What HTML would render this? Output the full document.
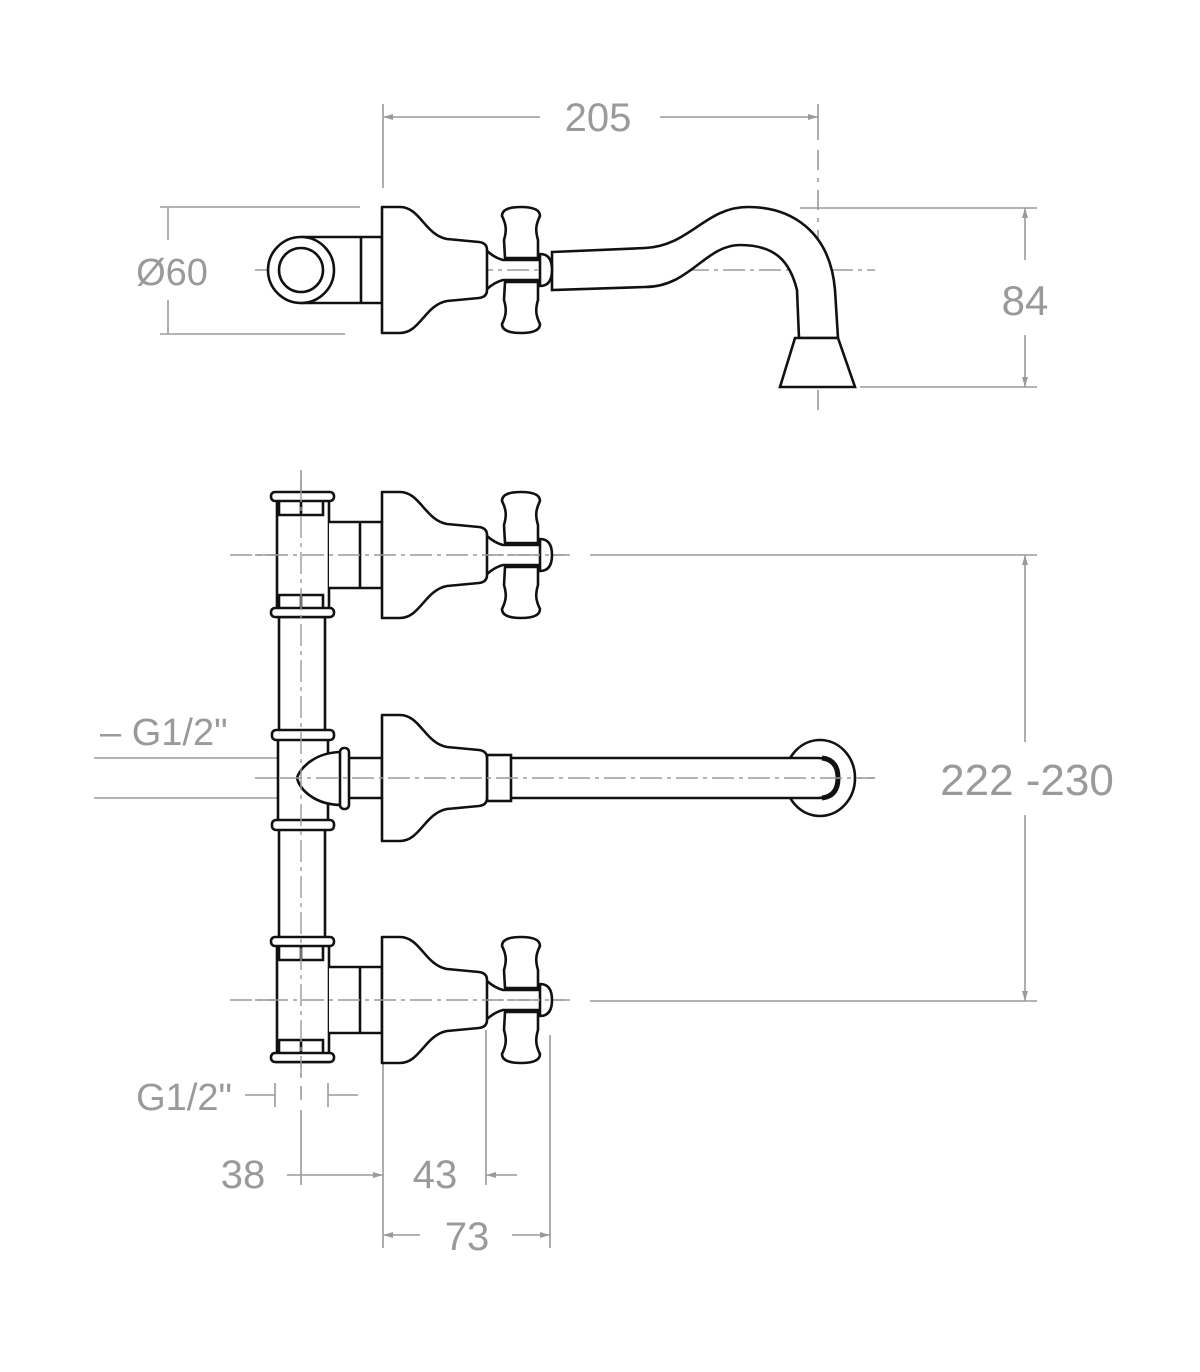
<!DOCTYPE html>
<html><head><meta charset="utf-8"><style>
html,body{margin:0;padding:0;background:#fff;}
svg{display:block;}
text{font-family:"Liberation Sans",Arial,sans-serif;fill:#9a9a9a;}
</style></head><body>
<svg width="1200" height="1372" viewBox="0 0 1200 1372" xmlns="http://www.w3.org/2000/svg">
<defs>
<g id="bell" fill="#fff" stroke="#111" stroke-width="2.6" stroke-linejoin="round">
<path d="M382,-63 L400,-63 C420,-63 425,-35 447,-31 L479,-28 Q487,-27 487,-20 L487,20 Q487,27 479,28 L447,31 C425,35 420,63 400,63 L382,63 Z"/>
</g>
<g id="handle" fill="#fff" stroke="#111" stroke-width="2.6" stroke-linejoin="round">
<path d="M487,-19 Q495,-12 503,-10 L540,-10 M487,19 Q495,12 503,10 L540,10" fill="none"/>
<path d="M540,-16 Q552,-16 552,0 Q552,16 540,16 Z"/>
<path d="M505,-12 L538,-12 L538,-30 C535,-40 536,-46 540,-54 Q540,-63 521,-63 Q502,-63 502,-54 C506,-46 507,-40 504,-30 Z"/>
<path d="M505,12 L538,12 L538,30 C535,40 536,46 540,54 Q540,63 521,63 Q502,63 502,54 C506,46 507,40 504,30 Z"/>
</g>
<g id="tee" fill="#fff" stroke="#111" stroke-width="2.6">
<rect x="277" y="-60" width="52" height="122"/>
<rect x="271" y="-63" width="63" height="9" rx="4"/>
<rect x="271" y="53" width="63" height="9" rx="4"/>
<path d="M279,-54 V-40 H323 V-54 M301,-54 V-40 M279,53 V40 H323 V53 M301,53 V40" fill="none"/>
<path d="M329,-33 H382 V33 H329" />
<path d="M360,-33 V33" fill="none"/>
</g>
</defs>

<g stroke="#9a9a9a" stroke-width="1.6" fill="none">
<!-- 205 -->
<path d="M383,104 V188 M818,104 V140 M383,117 H540 M660,117 H818"/>
<path d="M818,150 V170 M818,178 V182 M818,190 V210 M818,218 V222 M818,230 V250 M818,258 V262 M818,290 V310 M818,318 V322 M818,330 V340 M818,390 V410"/>
<!-- Ø60 -->
<path d="M160,207 H360 M160,334 H345 M168,207 V240 M168,300 V334"/>
<!-- centerline top -->
<path d="M255,270 H875" stroke-dasharray="22,5,4,5"/>
<!-- 84 -->
<path d="M800,208 H1037 M860,387 H1037 M1025,208 V260 M1025,335 V387"/>
<!-- 222-230 -->
<path d="M590,555 H1037 M590,1001 H1037 M1025,555 V742 M1025,815 V1001"/>
<path d="M255,555 H570 M255,1000 H570" stroke-dasharray="22,5,4,5"/>
<!-- middle -->
<path d="M94,758 H277 M94,798 H277"/>
<path d="M255,778 H875" stroke-dasharray="22,5,4,5"/>
<!-- vertical centerline -->
<path d="M301,470 V1080" stroke-dasharray="22,5,4,5"/>
<path d="M301,1086 V1100 M301,1110 V1185"/>
<!-- G1/2 bottom -->
<path d="M245,1095 H275 M275,1083 V1107 M328,1083 V1107 M328,1095 H358"/>
<!-- 38 -->
<path d="M287,1175 H383"/>
<!-- 43 -->
<path d="M486,1030 V1185 M486,1175 H517"/>
<!-- 73 -->
<path d="M383,1060 V1248 M550,1035 V1248 M383,1235 H420 M512,1235 H550"/>
</g>
<g fill="#9a9a9a">
<path d="M383,117 l10,-3 v6z M818,117 l-10,-3 v6z M1025,208 l-3,10 h6z M1025,387 l-3,-10 h6z M1025,555 l-3,10 h6z M1025,1001 l-3,-10 h6z M383,1175 l-10,-3 v6z M486,1175 l10,-3 v6z M383,1235 l10,-3 v6z M550,1235 l-10,-3 v6z"/>
</g>

<text x="598" y="131" font-size="40" text-anchor="middle">205</text>
<text x="172" y="285" font-size="38" text-anchor="middle">Ø60</text>
<text x="1025" y="315" font-size="42" text-anchor="middle">84</text>
<text x="1027" y="795" font-size="44" text-anchor="middle">222 -230</text>
<text x="100" y="745" font-size="38">– G1/2"</text>
<text x="232" y="1110" font-size="38" text-anchor="end">G1/2"</text>
<text x="243" y="1188" font-size="40" text-anchor="middle">38</text>
<text x="435" y="1188" font-size="40" text-anchor="middle">43</text>
<text x="467" y="1250" font-size="40" text-anchor="middle">73</text>

<!-- TOP VIEW -->
<g fill="#fff" stroke="#111" stroke-width="2.6">
<path d="M301,237 H382 V303 H301"/>
<path d="M361,237 V303" fill="none"/>
<circle cx="301" cy="270" r="33"/>
<circle cx="301" cy="270" r="22"/>
<path d="M552,252 L645,248 C690,246 705,207 748,207 C790,207 830,230 835,290 L838,338 L799,338 L797,290 C790,262 776,245 740,245 C705,245 690,287 645,287 L552,290 Z"/>
<path d="M795,338 H838 L855,387 H780 Z"/>
</g>
<use href="#bell" transform="translate(0,270)"/>
<use href="#handle" transform="translate(0,270)"/>

<!-- BOTTOM VIEW -->
<g fill="#fff" stroke="#111" stroke-width="2.6">
<rect x="279" y="615" width="46" height="330"/>
<!-- middle tee -->
<rect x="278" y="738" width="50" height="86"/>
<rect x="272" y="730" width="62" height="10" rx="4"/>
<rect x="272" y="820" width="62" height="10" rx="4"/>
<path d="M348,758 H382 V798 H348"/>
<path d="M342,752 C315,752 300,768 297,778 C300,790 315,805 342,805 Z"/>
<rect x="340" y="748" width="9" height="61" rx="4"/>
<!-- spout pipe -->
<ellipse cx="820" cy="778" rx="35" ry="38"/>
<path d="M510,758 H818 Q838,758 838,778 Q838,798 818,798 H510 Z"/>
<path d="M822,758 Q838,760 838,778 Q838,796 822,798" fill="none" stroke-width="5"/>
<rect x="487" y="755" width="24" height="46"/>
</g>
<use href="#tee" transform="translate(0,555)"/>
<use href="#tee" transform="translate(0,1000)"/>
<use href="#bell" transform="translate(0,555)"/>
<use href="#handle" transform="translate(0,555)"/>
<use href="#bell" transform="translate(0,778)"/>
<use href="#bell" transform="translate(0,1000)"/>
<use href="#handle" transform="translate(0,1000)"/>
<g stroke="#9a9a9a" stroke-width="1.4" fill="none">
<path d="M301,480 V1080" stroke-dasharray="22,5,4,5"/>
<path d="M230,555 H570 M230,1000 H570 M280,778 H875" stroke-dasharray="22,5,4,5"/>
</g>
</svg>
</body></html>
